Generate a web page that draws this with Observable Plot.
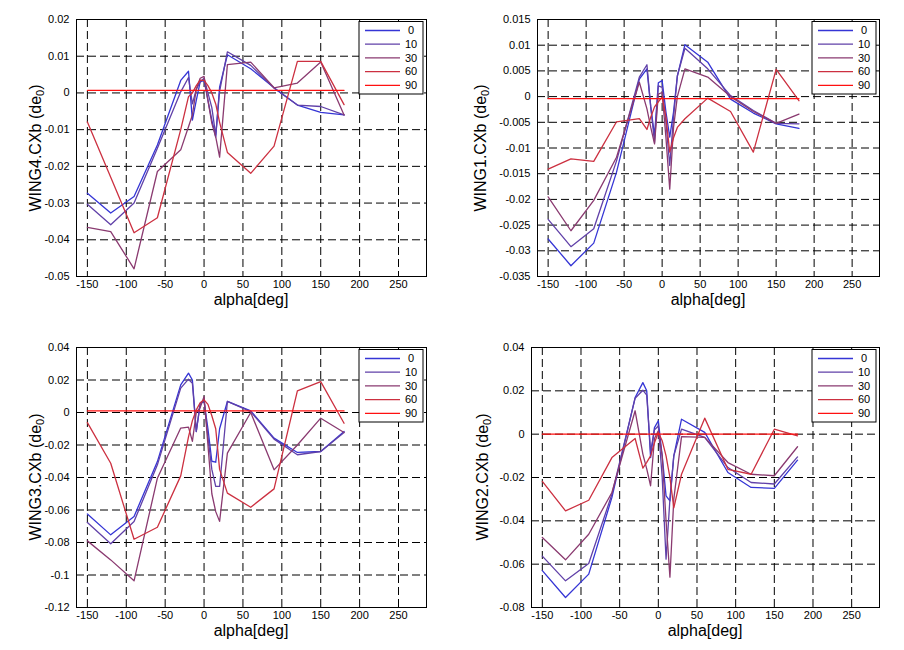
<!DOCTYPE html>
<html><head><meta charset="utf-8">
<script src="https://cdn.jsdelivr.net/npm/d3@7"></script>
<script src="https://cdn.jsdelivr.net/npm/@observablehq/plot@0.6"></script>
<style>
body{margin:0;background:#fff;font-family:"Liberation Sans",Arial,sans-serif;}
#root{position:relative;width:904px;height:650px;overflow:hidden;background:#fff;}
.panel{position:absolute;width:452px;height:325px;}
.panel svg{position:absolute;left:0;top:0;}
.ylab{position:absolute;font-size:16px;line-height:16px;white-space:nowrap;transform:translate(-50%,-50%) rotate(-90deg);color:#000;}
.ylab sub{font-size:11px;vertical-align:-3px;line-height:0;}
.xlab{position:absolute;font-size:16px;line-height:16px;white-space:nowrap;transform:translateX(-50%);color:#000;}
</style></head><body><div id="root"></div><script>
// ---- data ----
const alpha = [-150,-120,-90,-60,-30,-20,-15,-10,-5,0,5,10,15,20,30,60,90,120,150,180];
const seriesNames = ["0","10","30","60","90"];
const seriesColors = ["#3535d5","#6040a8","#8a3a70","#cc3040","#ff1010"];
const xTicks = [-150,-100,-50,0,50,100,150,200,250];

const wing4_0  = [-0.0273,-0.0327,-0.0282,-0.0142,0.0034,0.0059,-0.0074,-0.002,0.003,0.0034,-0.002,-0.0074,-0.012,0.0016,0.0104,0.0066,0.0014,-0.0033,-0.0053,-0.006];
const wing4_10 = [-0.0303,-0.0359,-0.030,-0.0151,0.0003,0.0042,-0.003,0.001,0.003,0.004,0.000,-0.004,-0.0115,0.0005,0.0112,0.0075,0.0013,-0.0033,-0.0037,-0.006];
const wing4_30 = [-0.0366,-0.0378,-0.0479,-0.0214,-0.0155,-0.0092,-0.006,0.001,0.004,0.0045,-0.002,-0.0083,-0.012,-0.0175,0.0077,0.0084,0.0014,0.0027,0.0084,-0.006];
const wing4_60 = [-0.0079,-0.023,-0.0381,-0.034,-0.010,-0.001,0.000,0.002,0.0035,0.0034,0.002,0.000,-0.003,-0.008,-0.0162,-0.0219,-0.0145,0.0086,0.0086,-0.0032];
const wing4_90 = [0.0007,0.0007,0.0007,0.0007,0.0007,0.0007,0.0007,0.0007,0.0007,0.0007,0.0007,0.0007,0.0007,0.0007,0.0007,0.0007,0.0007,0.0007,0.0007,0.0007];
const wing4Ticks = [-0.05,-0.04,-0.03,-0.02,-0.01,0,0.01,0.02];

const wing1_0  = [-0.0277,-0.0329,-0.0285,-0.0147,0.0034,0.0054,-0.002,-0.0076,0.0027,0.0031,-0.003,-0.0079,-0.003,0.004,0.0101,0.0067,-0.0005,-0.0032,-0.0053,-0.0062];
const wing1_10 = [-0.0239,-0.0292,-0.0257,-0.0125,0.0038,0.0062,-0.002,-0.0089,0.0021,0.0018,-0.005,-0.0134,-0.004,0.004,0.0094,0.0054,0.0002,-0.0027,-0.0052,-0.0053];
const wing1_30 = [-0.0195,-0.0261,-0.0202,-0.0118,0.0028,-0.0024,-0.006,-0.0092,0.0005,0.0008,-0.008,-0.018,-0.006,0.0,0.0054,0.0038,0.0,-0.0029,-0.0052,-0.0034];
const wing1_60 = [-0.0141,-0.0121,-0.0126,-0.0049,-0.0043,-0.0064,-0.004,-0.002,-0.001,-0.0001,-0.004,-0.0108,-0.008,-0.006,-0.0043,-0.0003,-0.0029,-0.0108,0.0053,-0.0008];
const wing1_90 = [-0.0004,-0.0004,-0.0004,-0.0004,-0.0004,-0.0004,-0.0004,-0.0004,-0.0004,-0.0004,-0.0004,-0.0004,-0.0004,-0.0004,-0.0004,-0.0004,-0.0004,-0.0004,-0.0004,-0.0004];
const wing1Ticks = [-0.035,-0.03,-0.025,-0.02,-0.015,-0.01,-0.005,0,0.005,0.01,0.015];

const wing3_0  = [-0.0624,-0.0753,-0.064,-0.0302,0.017,0.0242,0.020,-0.0117,0.0057,0.0068,-0.010,-0.030,-0.0306,-0.010,0.0068,0.001,-0.0158,-0.0246,-0.024,-0.0117];
const wing3_10 = [-0.0677,-0.0808,-0.0671,-0.0322,0.015,0.0205,0.018,-0.0117,0.0047,0.0078,-0.015,-0.035,-0.0455,-0.0455,0.0068,0.0005,-0.0164,-0.026,-0.024,-0.0123];
const wing3_30 = [-0.079,-0.0907,-0.1036,-0.0404,-0.0096,-0.009,-0.0178,0.000,0.003,0.0098,-0.02,-0.05,-0.061,-0.067,-0.025,0.0,-0.0353,-0.02,-0.0035,-0.0123];
const wing3_60 = [-0.0062,-0.0312,-0.078,-0.0706,-0.039,-0.015,-0.005,0.0016,0.006,0.0078,0.005,-0.002,-0.01,-0.035,-0.0496,-0.0583,-0.047,0.0133,0.019,-0.0066];
const wing3_90 = [0.001,0.001,0.001,0.001,0.001,0.001,0.001,0.001,0.001,0.001,0.001,0.001,0.001,0.001,0.001,0.001,0.001,0.001,0.001,0.001];
const wing3Ticks = [-0.12,-0.1,-0.08,-0.06,-0.04,-0.02,0,0.02,0.04];

const wing2_0  = [-0.063,-0.0754,-0.0646,-0.0292,0.0169,0.0238,0.020,-0.0108,0.003,0.0062,-0.01,-0.0285,-0.0308,-0.01,0.0069,0.0008,-0.0177,-0.0246,-0.025,-0.012];
const wing2_10 = [-0.0563,-0.0677,-0.0597,-0.0277,0.0166,0.0203,0.018,-0.008,0.002,0.0038,-0.02,-0.0577,-0.03,-0.01,0.0023,-0.0015,-0.0154,-0.0223,-0.023,-0.0105];
const wing2_30 = [-0.0477,-0.058,-0.0462,-0.0269,0.0108,-0.0092,-0.016,-0.0238,-0.002,0.0015,-0.01,-0.04,-0.066,-0.03,-0.0011,-0.0015,-0.0131,-0.0185,-0.0192,-0.0058];
const wing2_60 = [-0.0218,-0.0354,-0.0305,-0.0108,-0.002,-0.0157,-0.013,-0.010,-0.004,0.0008,-0.003,-0.010,-0.020,-0.034,-0.0185,0.0074,-0.0162,-0.0185,0.0023,-0.0008];
const wing2_90 = [0,0,0,0,0,0,0,0,0,0,0,0,0,0,0,0,0,0,0,0];
const wing2Ticks = [-0.08,-0.06,-0.04,-0.02,0,0.02,0.04];

// ---- layout ----
const panels = [
  {name:"WING4.CXb", series:[wing4_0,wing4_10,wing4_30,wing4_60,wing4_90], ticks:wing4Ticks,
   left:0, top:0, m:{l:76,r:26,t:19,b:49}, ylabX:36},
  {name:"WING1.CXb", series:[wing1_0,wing1_10,wing1_30,wing1_60,wing1_90], ticks:wing1Ticks,
   left:452, top:0, m:{l:85,r:25,t:19,b:49}, ylabX:29},
  {name:"WING3.CXb", series:[wing3_0,wing3_10,wing3_30,wing3_60,wing3_90], ticks:wing3Ticks,
   left:0, top:325, m:{l:76,r:26,t:22,b:43}, ylabX:36},
  {name:"WING2.CXb", series:[wing2_0,wing2_10,wing2_30,wing2_60,wing2_90], ticks:wing2Ticks,
   left:452, top:325, m:{l:79,r:25,t:22,b:43}, ylabX:31}
];
const W = 452, H = 325;
const fmt = d => Math.abs(d) < 1e-9 ? "0" : String(+d.toFixed(4));
const root = document.getElementById("root");

for (const p of panels) {
  const div = document.createElement("div");
  div.className = "panel";
  div.style.left = p.left + "px";
  div.style.top = p.top + "px";
  root.appendChild(div);
  const ticks = p.ticks;
  const lines = p.series.map((vals, i) => Plot.line(alpha.map((a, j) => ({x: a, y: vals[j]})),
      {x: "x", y: "y", stroke: seriesColors[i], strokeWidth: 1.3}));
  const svg = Plot.plot({
    width: W, height: H,
    marginLeft: p.m.l, marginRight: p.m.r, marginTop: p.m.t, marginBottom: p.m.b,
    style: {background: "transparent", fontFamily: "'Liberation Sans', Arial, sans-serif", fontSize: "11px", color: "#000", overflow: "visible"},
    x: {domain: [-164, 286], ticks: xTicks, tickFormat: fmt, tickSize: 0, tickPadding: 4, label: null},
    y: {domain: [ticks[0], ticks[ticks.length - 1]], ticks: ticks, tickFormat: fmt, tickSize: 0, tickPadding: 7, label: null},
    marks: [
      Plot.gridX(xTicks, {stroke: "#000", strokeOpacity: 1, strokeDasharray: "8,4"}),
      Plot.gridY(ticks, {stroke: "#000", strokeOpacity: 1, strokeDasharray: "8,4"}),
      ...lines,
      Plot.frame({stroke: "#000"})
    ]
  });
  div.appendChild(svg);

  // legend
  const right = W - p.m.r, top = p.m.t;
  const bx = right - 67, by = top + 2.5;
  const g = d3.select(svg).append("g");
  g.append("rect").attr("x", bx).attr("y", by).attr("width", 64).attr("height", 72.5)
    .attr("fill", "#fff").attr("stroke", "#000");
  seriesNames.forEach((s, i) => {
    const yy = by + 9 + i * 13.7;
    g.append("line").attr("x1", bx + 6).attr("x2", bx + 41).attr("y1", yy).attr("y2", yy)
      .attr("stroke", seriesColors[i]).attr("stroke-width", 1.3);
    g.append("text").attr("x", bx + 52).attr("y", yy).attr("dy", "0.35em")
      .attr("text-anchor", "middle").attr("font-size", 11).attr("fill", "#000").text(s);
  });

  // axis labels
  const boxCy = p.m.t + (H - p.m.t - p.m.b) / 2;
  const yl = document.createElement("div");
  yl.className = "ylab";
  yl.style.left = p.ylabX + "px";
  yl.style.top = boxCy + "px";
  yl.innerHTML = p.name + " (de<sub>0</sub>)";
  div.appendChild(yl);
  const xl = document.createElement("div");
  xl.className = "xlab";
  xl.style.left = (p.m.l + (W - p.m.l - p.m.r) / 2) + "px";
  xl.style.top = (H - p.m.b + 15.5) + "px";
  xl.textContent = "alpha[deg]";
  div.appendChild(xl);
}
</script></body></html>
